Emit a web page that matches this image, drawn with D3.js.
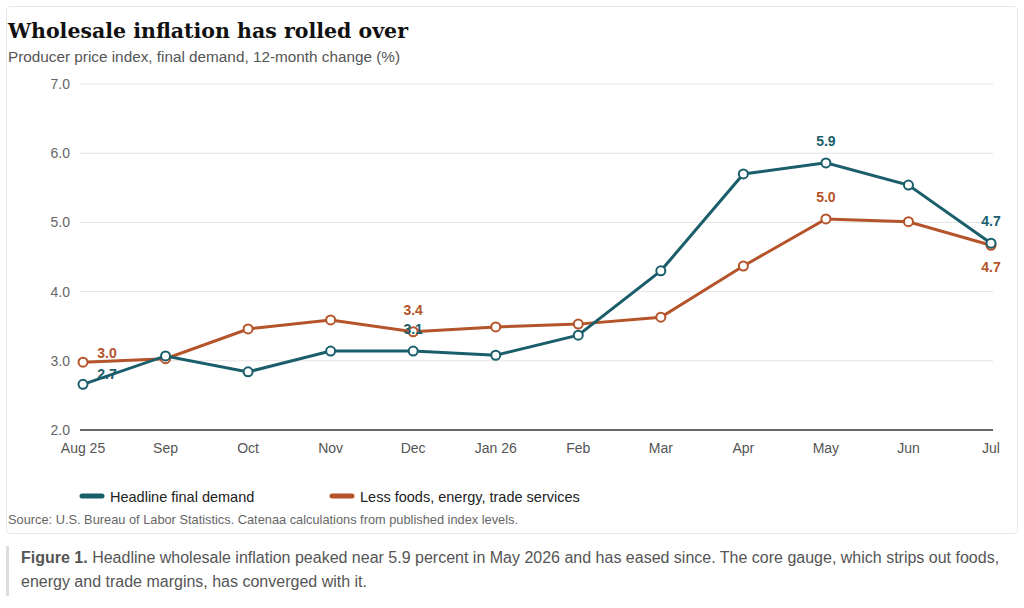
<!DOCTYPE html>
<html><head><meta charset="utf-8">
<script src="https://cdn.jsdelivr.net/npm/d3@7"></script>
<style>
body{margin:0;background:#fff;font-family:"Liberation Sans",Arial,sans-serif;}
</style></head><body>
<svg id="c" width="1024" height="608"></svg>
<script>
const months=["Aug 25","Sep","Oct","Nov","Dec","Jan 26","Feb","Mar","Apr","May","Jun","Jul"];
const headline=[2.66,3.07,2.84,3.14,3.14,3.08,3.37,4.30,5.70,5.86,5.54,4.70];
const core=[2.98,3.03,3.46,3.59,3.42,3.49,3.53,3.63,4.37,5.05,5.01,4.67];
const yTicks=[2,3,4,5,6,7];
const headLabels=[[0,"2.7",24,-5],[4,"3.1",0,-17],[9,"5.9",0,-17],[11,"4.7",0,-17]];
const coreLabels=[[0,"3.0",24,-4],[4,"3.4",0,-17],[9,"5.0",0,-17],[11,"4.7",0,27]];
const C1="#1b5e6b",C2="#b5532a";
const svg=d3.select("#c");
svg.append("rect").attr("x",6.5).attr("y",6.5).attr("width",1011).attr("height",527).attr("rx",4).attr("fill","#fff").attr("stroke","#e6e6e6");
svg.append("text").attr("x",8).attr("y",38).attr("font-family","'DejaVu Serif',serif").attr("font-weight","bold").attr("font-size",20.5).attr("fill","#111").text("Wholesale inflation has rolled over");
svg.append("text").attr("x",8).attr("y",62).attr("font-size",15.3).attr("fill","#555").text("Producer price index, final demand, 12-month change (%)");
const x=d3.scalePoint().domain(months).range([83,991]);
const y=d3.scaleLinear().domain([2,7]).range([430,84]);
const g=svg.append("g");
yTicks.forEach(t=>{
 g.append("line").attr("x1",80).attr("x2",993).attr("y1",y(t)).attr("y2",y(t)).attr("stroke",t===2?"#333":"#e3e3e3").attr("stroke-width",t===2?1.5:1);
 g.append("text").attr("x",70).attr("y",y(t)+5).attr("text-anchor","end").attr("font-size",14).attr("fill","#666").text(t.toFixed(1));
});
months.forEach(m=>g.append("text").attr("x",x(m)).attr("y",453).attr("text-anchor","middle").attr("font-size",14).attr("fill","#555").text(m));
function series(vals,col,labels){
 const line=d3.line().x((d,i)=>x(months[i])).y(d=>y(d));
 g.append("path").attr("d",line(vals)).attr("fill","none").attr("stroke",col).attr("stroke-width",3);
 g.selectAll(null).data(vals).enter().append("circle").attr("cx",(d,i)=>x(months[i])).attr("cy",d=>y(d)).attr("r",4.5).attr("fill","#fff").attr("stroke",col).attr("stroke-width",2);
 labels.forEach(([i,t,dx,dy])=>g.append("text").attr("x",x(months[i])+dx).attr("y",y(vals[i])+dy).attr("text-anchor","middle").attr("font-size",14).attr("font-weight","bold").attr("fill",col).text(t));
}
series(core,C2,coreLabels);
series(headline,C1,headLabels);
[[C1,"Headline final demand",82],[C2,"Less foods, energy, trade services",332]].forEach(([c,t,lx])=>{
 svg.append("line").attr("x1",lx).attr("x2",lx+20).attr("y1",496).attr("y2",496).attr("stroke",c).attr("stroke-width",5).attr("stroke-linecap","round");
 svg.append("text").attr("x",lx+28).attr("y",502).attr("font-size",14.5).attr("fill","#222").text(t);
});
svg.append("text").attr("x",8).attr("y",524).attr("font-size",12.8).attr("fill","#666").text("Source: U.S. Bureau of Labor Statistics. Catenaa calculations from published index levels.");
svg.append("rect").attr("x",6).attr("y",546).attr("width",3).attr("height",50).attr("fill","#ddd");
const cap=svg.append("text").attr("font-size",16).attr("fill","#555");
const t1=cap.append("tspan").attr("x",21).attr("y",563);
t1.append("tspan").attr("font-weight","bold").text("Figure 1.");
t1.append("tspan").text(" Headline wholesale inflation peaked near 5.9 percent in May 2026 and has eased since. The core gauge, which strips out foods,");
cap.append("tspan").attr("x",21).attr("y",587).text("energy and trade margins, has converged with it.");
</script></body></html>
